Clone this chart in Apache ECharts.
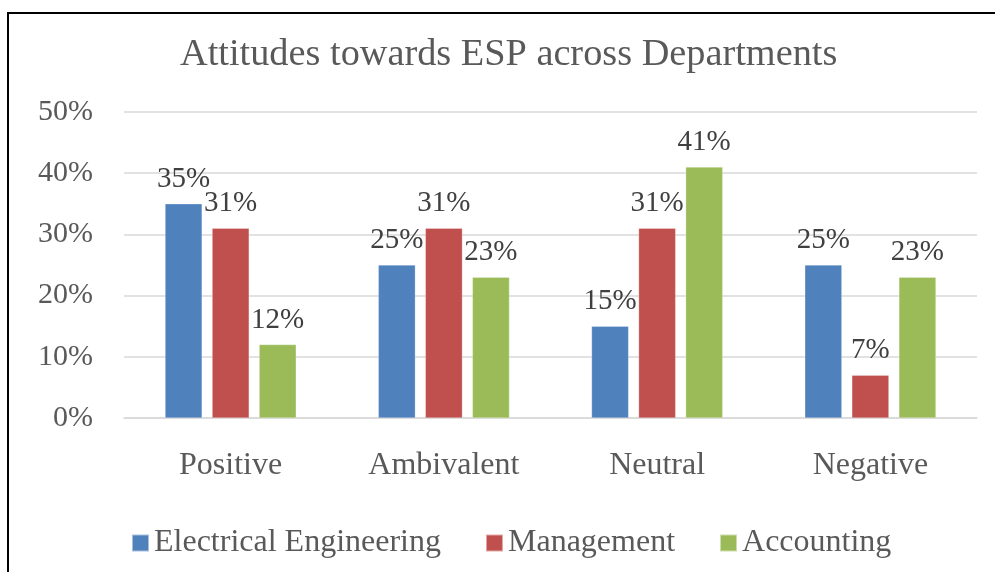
<!DOCTYPE html>
<html>
<head>
<meta charset="utf-8">
<script src="https://cdn.jsdelivr.net/npm/echarts@6/dist/echarts.min.js"></script>
<style>
html,body{margin:0;padding:0;background:#fff;}
#c{width:995px;height:572px;}
</style>
</head>
<body>
<div id="c"></div>
<script>
const categories = ['Positive', 'Ambivalent', 'Neutral', 'Negative'];
const seriesNames = ['Electrical Engineering', 'Management', 'Accounting'];
const electrical = [35, 25, 15, 25];
const management = [31, 31, 31, 7];
const accounting = [12, 23, 41, 23];
const yTicks = [0, 10, 20, 30, 40, 50];
const colors = ['#4F81BD', '#C0504D', '#9BBB59'];
const font = "'Liberation Serif', 'Times New Roman', serif";

const chart = echarts.init(document.getElementById('c'), null, {renderer: 'canvas'});
const values = [electrical, management, accounting];
const option = {
  animation: false,
  backgroundColor: '#fff',
  graphic: [{
    type: 'rect',
    shape: {x: 8, y: 13, width: 1000, height: 600},
    style: {fill: 'none', stroke: '#000', lineWidth: 2},
    silent: true
  }],
  title: {
    text: 'Attitudes towards ESP across Departments',
    left: 175, top: 31,
    textStyle: {fontFamily: font, fontSize: 38.3, fontWeight: 'normal', color: '#595959'}
  },
  legend: {
    data: seriesNames,
    left: 126, top: 522,
    itemWidth: 17, itemHeight: 17, itemGap: 44,
    icon: 'rect',
    textStyle: {fontFamily: font, fontSize: 32, color: '#595959'}
  },
  grid: {left: 124, right: 18, top: 112, bottom: 154, containLabel: false},
  xAxis: {
    type: 'category', data: categories,
    axisLine: {lineStyle: {color: '#d9d9d9', width: 1.5}},
    axisTick: {show: false},
    axisLabel: {fontFamily: font, fontSize: 32, color: '#595959', margin: 32}
  },
  yAxis: {
    type: 'value', min: yTicks[0], max: yTicks[yTicks.length-1], interval: 10,
    axisLine: {show: false}, axisTick: {show: false},
    splitLine: {lineStyle: {color: '#d9d9d9', width: 1.5}},
    axisLabel: {fontFamily: font, fontSize: 30, color: '#595959', margin: 31, formatter: '{value}%'}
  },
  series: seriesNames.map((n, i) => ({
    name: n, type: 'bar', data: values[i],
    barGap: '27%', barCategoryGap: '38.5%',
    itemStyle: {color: colors[i], borderColor: 'rgba(255,255,255,0.5)', borderWidth: 0.5},
    label: {show: true, position: 'top', distance: 10, formatter: '{c}%',
      fontFamily: font, fontSize: 29, color: '#404040'}
  }))
};
chart.setOption(option);
</script>
</body>
</html>
